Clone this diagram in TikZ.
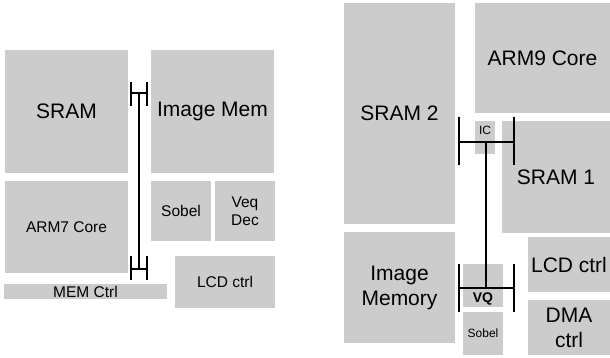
\documentclass[tikz,border=0pt]{standalone}
\usepackage{fontspec}
\setmainfont{Liberation Sans}
\definecolor{blockgray}{HTML}{CCCCCC}
\tikzset{
  blk/.style={fill=blockgray, draw=none, inner sep=0pt, align=center},
  big/.style={font=\fontsize{21}{25}\selectfont},
  mid/.style={font=\fontsize{15.5}{18}\selectfont},
  small/.style={font=\fontsize{12}{14}\selectfont},
  vqfont/.style={font=\bfseries\fontsize{14}{16}\selectfont},
  bus/.style={line width=1.5pt, black},
}
\newcommand{\mkblk}[7]{%
  \node[blk,#7,minimum width={#4-#2},minimum height={#5-#3}] (#1) at ({(#2+#4)/2},{(#3+#5)/2}) {#6};}
\begin{document}
\begin{tikzpicture}[x=1pt,y=-1pt]
\useasboundingbox (0,0) rectangle (610,358);
% ---------- left floorplan ----------
\mkblk{sram}{5}{50}{128}{173}{SRAM}{big}
\mkblk{imgmem}{151}{50}{274}{173}{Image Mem}{big}
\mkblk{arm7}{5}{181}{128}{273}{ARM7 Core}{mid}
\mkblk{sobelL}{151}{181}{211}{241}{Sobel}{mid}
\mkblk{veq}{215}{181}{275}{241}{Veq\\Dec}{mid}
\mkblk{lcdL}{175}{256}{275}{308}{LCD ctrl}{mid}
\mkblk{memctrl}{4}{284}{167}{299}{MEM Ctrl}{mid}
% left bus
\coordinate (lt1) at (131,82);  \coordinate (lt2) at (131,106);
\coordinate (lt3) at (147,82);  \coordinate (lt4) at (147,106);
\coordinate (ltl) at (131,93);  \coordinate (ltr) at (147,93);
\coordinate (ltm) at (139,93);
\coordinate (lb1) at (131,256); \coordinate (lb2) at (131,280);
\coordinate (lb3) at (147,256); \coordinate (lb4) at (147,280);
\coordinate (lbl) at (131,269); \coordinate (lbr) at (147,269);
\coordinate (lbm) at (139,269);
\draw[bus] (lt1) -- (lt2);
\draw[bus] (lt3) -- (lt4);
\draw[bus] (ltl) -- (ltr);
\draw[bus] (lb1) -- (lb2);
\draw[bus] (lb3) -- (lb4);
\draw[bus] (lbl) -- (lbr);
\draw[bus] (ltm) -- (lbm);
% ---------- right floorplan ----------
\mkblk{sram2}{344}{3}{455}{224}{SRAM 2}{big}
\mkblk{arm9}{475}{3}{610}{113}{ARM9 Core}{big}
\mkblk{sram1}{502}{121}{610}{233}{SRAM 1}{big}
\mkblk{ic}{475}{121}{495}{154}{}{small}
\node[small] (ictext) at (485,130) {IC};
\mkblk{imgmemory}{344}{232}{455}{343}{Image\\Memory}{big}
\mkblk{vq}{463}{264}{503}{307}{}{vqfont}
\node[vqfont] (vqtext) at (483,299) {VQ};
\mkblk{sobelR}{463}{312}{503}{355}{Sobel}{small}
\mkblk{lcdR}{528}{237}{610}{292}{LCD ctrl}{big}
\mkblk{dma}{528}{300}{610}{355}{DMA\\ctrl}{big}
% right bus
\coordinate (rt1) at (459,117); \coordinate (rt2) at (459,165);
\coordinate (rt3) at (514,117); \coordinate (rt4) at (514,165);
\coordinate (rtl) at (459,142); \coordinate (rtr) at (514,142);
\coordinate (rtm) at (486,142);
\coordinate (rb1) at (459,264); \coordinate (rb2) at (459,312);
\coordinate (rb3) at (514,264); \coordinate (rb4) at (514,312);
\coordinate (rbl) at (459,288); \coordinate (rbr) at (514,288);
\coordinate (rbm) at (486,288);
\draw[bus] (rt1) -- (rt2);
\draw[bus] (rt3) -- (rt4);
\draw[bus] (rtl) -- (rtr);
\draw[bus] (rb1) -- (rb2);
\draw[bus] (rb3) -- (rb4);
\draw[bus] (rbl) -- (rbr);
\draw[bus] (rtm) -- (rbm);
\end{tikzpicture}
\end{document}
